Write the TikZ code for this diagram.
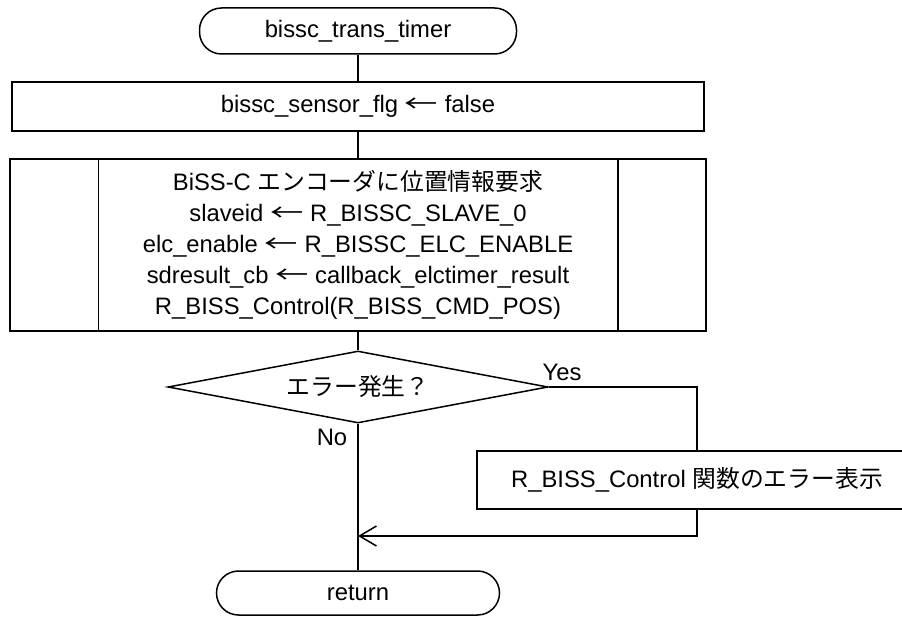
\documentclass[tikz,border=0pt]{standalone}
\usepackage{fontspec}
\setmainfont{Liberation Sans}
\newfontfamily\jp{Noto Sans CJK JP}
\usetikzlibrary{shapes.geometric,arrows.meta}
\newcommand{\asg}{\hspace{0.28em}\scalebox{1.4}[1]{\jp ←}\hspace{0.28em}}
\begin{document}
\begin{tikzpicture}[x=1pt,y=-1pt,
  every node/.style={font=\fontsize{23.8pt}{31pt}\selectfont, inner sep=0pt},
  line width=1.5pt,
  term/.style={draw, rectangle, rounded corners=22pt},
  procbox/.style={draw, rectangle, align=center},
  decision/.style={draw, diamond, aspect=5.28},
  lbl/.style={}
]
\useasboundingbox (0,0) rectangle (902,617);
\clip (0,0) rectangle (902,617);

\node[term, minimum width=317pt, minimum height=46pt] (start) at (358,31) {bissc\_trans\_timer};
\node[procbox, minimum width=692pt, minimum height=49pt] (b1) at (358,106.5) {bissc\_sensor\_flg\asg false};
\node[procbox, minimum width=696pt, minimum height=172pt] (pre) at (358,245)
  {BiSS-C {\jp エンコーダに位置情報要求}\\
   slaveid\asg R\_BISSC\_SLAVE\_0\\
   elc\_enable\asg R\_BISSC\_ELC\_ENABLE\\
   sdresult\_cb\asg callback\_elctimer\_result\\
   R\_BISS\_Control(R\_BISS\_CMD\_POS)};
\draw ([xshift=89pt]pre.north west) -- ([xshift=89pt]pre.south west);
\draw ([xshift=-89pt]pre.north east) -- ([xshift=-89pt]pre.south east);

\node[decision, minimum width=380pt, minimum height=72pt] (dec) at (358,387) {{\jp エラー発生？}};
\node[procbox, minimum width=440pt, minimum height=58pt] (err) at (697,480) {R\_BISS\_Control {\jp 関数のエラー表示}};
\node[term, minimum width=283pt, minimum height=44pt] (ret) at (358,593) {return};

\node[lbl] (yes) at (562,372) {Yes};
\node[lbl] (no) at (332,437) {No};

\coordinate (j1) at (697,536);
\coordinate (j2) at (358,536);

\draw (start) -- (b1);
\draw (b1) -- (pre);
\draw (pre) -- (dec);
\draw (dec.east) -| (err.north);
\draw (dec.south) -- (ret.north);
\draw[-{Straight Barb[length=17pt,width=20pt]}] (err.south) -- (j1) -- (j2);
\end{tikzpicture}
\end{document}
